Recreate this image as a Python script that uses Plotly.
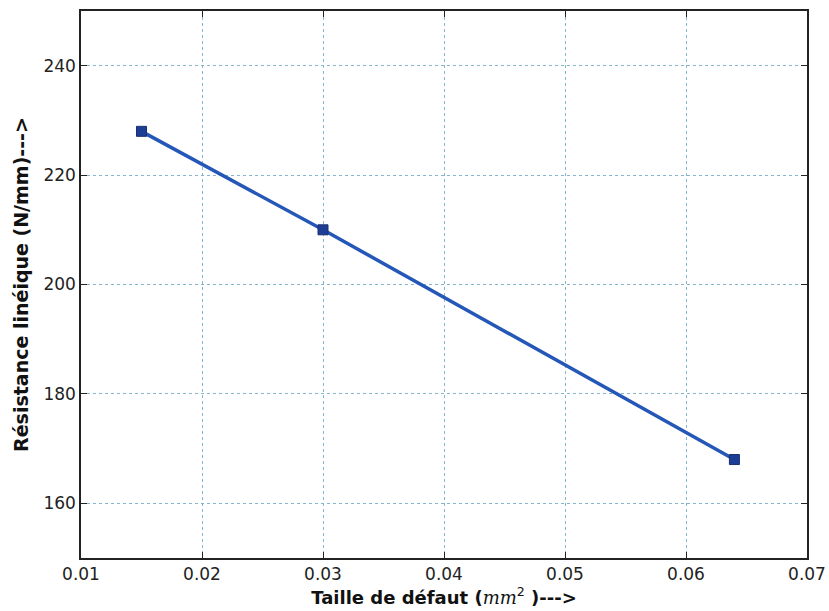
import plotly.graph_objects as go

taille = [0.015, 0.030, 0.064]
resistance = [228, 210, 168]
x_ticks = [0.01, 0.02, 0.03, 0.04, 0.05, 0.06, 0.07]
y_ticks = [160, 180, 200, 220, 240]

fig = go.Figure()
fig.add_trace(go.Scatter(
    x=taille, y=resistance, mode="lines+markers",
    line=dict(color="#2457b8", width=3.5),
    marker=dict(symbol="square", size=10, color="#1c3f95", line=dict(color="#1a2f70", width=1)),
    showlegend=False,
))

axis_common = dict(
    showline=True, linecolor="#222", linewidth=1.5, mirror="ticks",
    ticks="inside", ticklen=6, tickcolor="#222",
    showgrid=True, gridcolor="#86b6cf", griddash="dot", gridwidth=1.3,
    zeroline=False, automargin=False, ticklabeloverflow="allow",
    tickfont=dict(family="DejaVu Sans", size=17, color="#222"),
)

fig.update_xaxes(
    range=[0.01, 0.07], tickvals=x_ticks, ticktext=[f"{v:.2f}" for v in x_ticks],
    title=dict(text="<b>Taille de défaut (</b><span style=\"font-family:'DejaVu Serif';font-style:italic;font-weight:normal\">mm</span><sup>2</sup><b> )---></b>",
               font=dict(family="DejaVu Sans", size=18, color="#111"), standoff=5),
    **axis_common,
)
fig.update_yaxes(
    range=[150, 250], tickvals=y_ticks,
    title=dict(text="<b>Résistance linéique (N/mm)---></b>",
               font=dict(family="DejaVu Sans", size=19, color="#111"), standoff=10),
    **axis_common,
)

fig.update_layout(
    width=829, height=611,
    margin=dict(l=81, r=22, t=11, b=53),
    plot_bgcolor="white", paper_bgcolor="white",
)

fig.write_html("out.html", config={"displayModeBar": False},
               post_script="document.body.style.margin='0';document.body.style.padding='0';")
